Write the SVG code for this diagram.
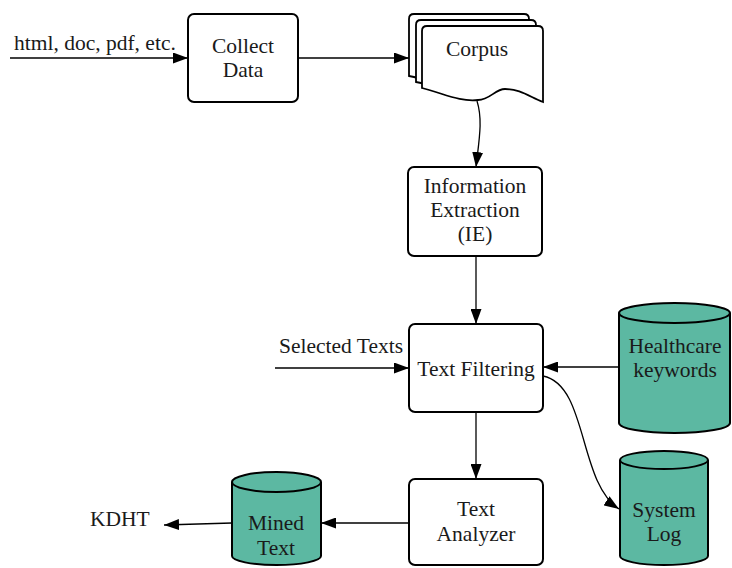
<svg xmlns="http://www.w3.org/2000/svg" width="732" height="568" viewBox="0 0 732 568">
  <defs>
    <marker id="arrow" markerUnits="userSpaceOnUse" markerWidth="15" markerHeight="11" refX="15" refY="5.5" orient="auto">
      <path d="M0,0 L15,5.5 L0,11 Z" fill="#000"/>
    </marker>
    <style>
      .box { fill: #fff; stroke: #000; stroke-width: 2; }
      .doc { fill: #fff; stroke: #000; stroke-width: 1.8; }
      .db { fill: #5cb8a2; stroke: #000; stroke-width: 2; }
      .edge { fill: none; stroke: #000; stroke-width: 1.3; }
      .rim { fill: none; stroke: #000; stroke-width: 2; }
      text { font-family: "Liberation Serif", "Times New Roman", serif; font-size: 21.5px; fill: #1a1a1a; }
      .c { text-anchor: middle; }
    </style>
  </defs>
  <rect width="732" height="568" fill="#fff"/>

  <!-- connectors -->
  <g id="connectors">
    <path class="edge" d="M10,58 L188,58" marker-end="url(#arrow)"/>
    <path class="edge" d="M298,58 L409,58" marker-end="url(#arrow)"/>
    <path class="edge" d="M477,101 C483,120 479,140 476,167" marker-end="url(#arrow)"/>
    <path class="edge" d="M476,256 L476,324" marker-end="url(#arrow)"/>
    <path class="edge" d="M275,368 L409,368" marker-end="url(#arrow)"/>
    <path class="edge" d="M619,367 L543,367" marker-end="url(#arrow)"/>
    <path class="edge" d="M543,376 C588,385 578,482 619,509" marker-end="url(#arrow)"/>
    <path class="edge" d="M476,412 L476,479" marker-end="url(#arrow)"/>
    <path class="edge" d="M409,523 L321,523" marker-end="url(#arrow)"/>
    <path class="edge" d="M232,523 L164,525" marker-end="url(#arrow)"/>
  </g>

  <!-- free labels -->
  <text x="14" y="50">html, doc, pdf, etc.</text>
  <text x="279" y="353">Selected Texts</text>
  <text x="90" y="526">KDHT</text>

  <g id="collect-data">
    <rect class="box" x="188" y="14" width="110" height="88" rx="6"/>
    <text class="c" x="243" y="53">Collect</text>
    <text class="c" x="243" y="77">Data</text>
  </g>

  <g id="corpus">
    <path class="doc" d="M409,19 Q409,14 414,14 L524,14 Q529,14 529,19 L529,88 C518,84 508,78 492,78 C482,78 477,88 465,88 C447,90 432,80 409,76 Z"/>
    <path class="doc" d="M416,25 Q416,20 421,20 L531,20 Q536,20 536,25 L536,94 C525,90 515,84 499,84 C489,84 484,94 472,94 C454,96 439,86 416,82 Z"/>
    <path class="doc" d="M422,31 Q422,26 427,26 L538,26 Q543,26 543,31 L543,102 C530,97 520,89 505,89 C495,89 490,100 478,100 C460,102 445,94 422,88 Z"/>
    <text class="c" x="477" y="56">Corpus</text>
  </g>

  <g id="information-extraction">
    <rect class="box" x="408" y="167" width="134" height="89" rx="6"/>
    <text class="c" x="475" y="193">Information</text>
    <text class="c" x="475" y="217">Extraction</text>
    <text class="c" x="475" y="241">(IE)</text>
  </g>

  <g id="text-filtering">
    <rect class="box" x="409" y="324" width="134" height="88" rx="6"/>
    <text class="c" x="476" y="376">Text Filtering</text>
  </g>

  <g id="healthcare-keywords">
    <path class="db" d="M619,313 A55.5,10 0 0 1 730,313 L730,423 A55.5,10 0 0 1 619,423 Z"/>
    <path class="rim" d="M619,313 A55.5,10 0 0 0 730,313"/>
    <text class="c" x="675" y="353">Healthcare</text>
    <text class="c" x="675" y="377">keywords</text>
  </g>

  <g id="system-log">
    <path class="db" d="M620,460 A44,9 0 0 1 708,460 L708,556 A44,9 0 0 1 620,556 Z"/>
    <path class="rim" d="M620,460 A44,9 0 0 0 708,460"/>
    <text class="c" x="664" y="517">System</text>
    <text class="c" x="664" y="541">Log</text>
  </g>

  <g id="text-analyzer">
    <rect class="box" x="409" y="479" width="134" height="86" rx="6"/>
    <text class="c" x="476" y="516">Text</text>
    <text class="c" x="476" y="541">Analyzer</text>
  </g>

  <g id="mined-text">
    <path class="db" d="M232,482 A44.5,10 0 0 1 321,482 L321,556 A44.5,9 0 0 1 232,556 Z"/>
    <path class="rim" d="M232,482 A44.5,10 0 0 0 321,482"/>
    <text class="c" x="276" y="530">Mined</text>
    <text class="c" x="276" y="555">Text</text>
  </g>
</svg>
